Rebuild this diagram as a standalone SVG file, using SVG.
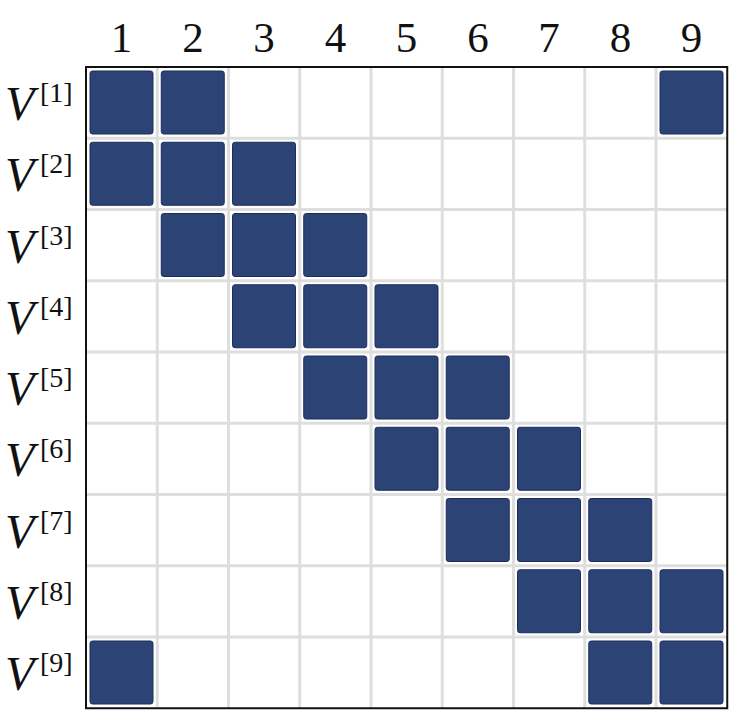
<svg xmlns="http://www.w3.org/2000/svg" width="734" height="716" viewBox="0 0 734 716">
<style>
.grid{stroke:#dedede;stroke-width:3;fill:none}
.border{stroke:#111;stroke-width:2;fill:none}
.cell{fill:#2c4475;stroke:#1c2d5c;stroke-width:1}
.col{font-family:"Liberation Serif","DejaVu Serif",serif;font-size:43px;fill:#111;text-anchor:middle}
.v{font-family:"Liberation Serif","DejaVu Serif",serif;font-size:48px;font-style:italic;fill:#111}
.sup{font-family:"Liberation Serif","DejaVu Serif",serif;font-size:28px;fill:#111}
</style>
<defs>
<rect id="sq" class="cell" x="0" y="0" width="63" height="63" rx="2.5"/>
</defs>
<rect x="0" y="0" width="734" height="716" fill="#fff"/>
<g id="gridlines" class="grid">
<path d="M157.25 67V708.25M228.5 67V708.25M299.75 67V708.25M371 67V708.25M442.25 67V708.25M513.5 67V708.25M584.75 67V708.25M656 67V708.25"/>
<path d="M86 138.25H727.25M86 209.5H727.25M86 280.75H727.25M86 352H727.25M86 423.25H727.25M86 494.5H727.25M86 565.75H727.25M86 637H727.25"/>
</g>
<g id="col-labels">
<text class="col" x="121.6" y="52">1</text>
<text class="col" x="192.9" y="52">2</text>
<text class="col" x="264.1" y="52">3</text>
<text class="col" x="335.4" y="52">4</text>
<text class="col" x="406.6" y="52">5</text>
<text class="col" x="477.9" y="52">6</text>
<text class="col" x="549.1" y="52">7</text>
<text class="col" x="620.4" y="52">8</text>
<text class="col" x="691.6" y="52">9</text>
</g>
<g id="row-labels">
<g id="row1"><text class="v" x="5" y="120">V</text><text class="sup" x="40" y="102">[1]</text></g>
<g id="row2"><text class="v" x="5" y="191.25">V</text><text class="sup" x="40" y="173.25">[2]</text></g>
<g id="row3"><text class="v" x="5" y="262.5">V</text><text class="sup" x="40" y="244.5">[3]</text></g>
<g id="row4"><text class="v" x="5" y="333.75">V</text><text class="sup" x="40" y="315.75">[4]</text></g>
<g id="row5"><text class="v" x="5" y="405">V</text><text class="sup" x="40" y="387">[5]</text></g>
<g id="row6"><text class="v" x="5" y="476.25">V</text><text class="sup" x="40" y="458.25">[6]</text></g>
<g id="row7"><text class="v" x="5" y="547.5">V</text><text class="sup" x="40" y="529.5">[7]</text></g>
<g id="row8"><text class="v" x="5" y="618.75">V</text><text class="sup" x="40" y="600.75">[8]</text></g>
<g id="row9"><text class="v" x="5" y="690">V</text><text class="sup" x="40" y="672">[9]</text></g>
</g>
<g id="cells">
<use href="#sq" x="90" y="71"/><use href="#sq" x="161.25" y="71"/><use href="#sq" x="660" y="71"/>
<use href="#sq" x="90" y="142.25"/><use href="#sq" x="161.25" y="142.25"/><use href="#sq" x="232.5" y="142.25"/>
<use href="#sq" x="161.25" y="213.5"/><use href="#sq" x="232.5" y="213.5"/><use href="#sq" x="303.75" y="213.5"/>
<use href="#sq" x="232.5" y="284.75"/><use href="#sq" x="303.75" y="284.75"/><use href="#sq" x="375" y="284.75"/>
<use href="#sq" x="303.75" y="356"/><use href="#sq" x="375" y="356"/><use href="#sq" x="446.25" y="356"/>
<use href="#sq" x="375" y="427.25"/><use href="#sq" x="446.25" y="427.25"/><use href="#sq" x="517.5" y="427.25"/>
<use href="#sq" x="446.25" y="498.5"/><use href="#sq" x="517.5" y="498.5"/><use href="#sq" x="588.75" y="498.5"/>
<use href="#sq" x="517.5" y="569.75"/><use href="#sq" x="588.75" y="569.75"/><use href="#sq" x="660" y="569.75"/>
<use href="#sq" x="90" y="641"/><use href="#sq" x="588.75" y="641"/><use href="#sq" x="660" y="641"/>
</g>
<rect id="frame" class="border" x="86" y="67" width="641.25" height="641.25"/>
</svg>
